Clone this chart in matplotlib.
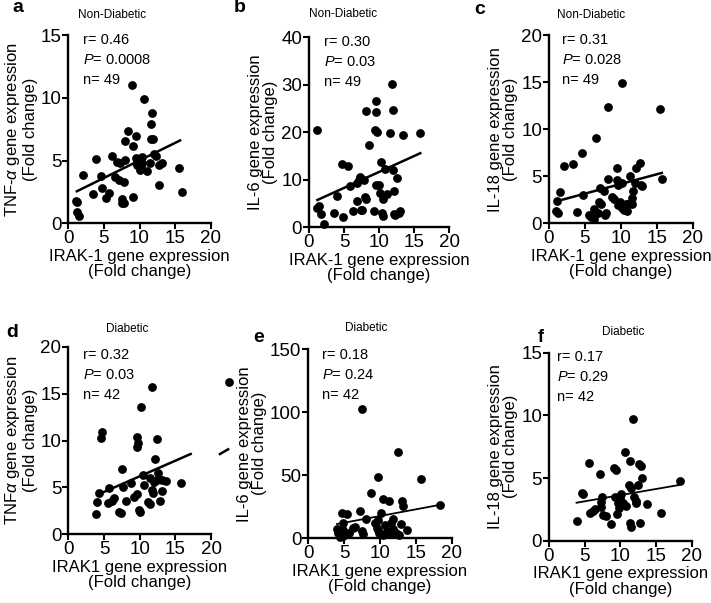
import numpy as np
import matplotlib
matplotlib.use('Agg')
import matplotlib.pyplot as plt

plt.rcParams['font.family'] = ['Liberation Sans', 'DejaVu Sans']
plt.rcParams['mathtext.fontset'] = 'custom'
plt.rcParams['mathtext.rm'] = 'Liberation Sans'
plt.rcParams['mathtext.it'] = 'Liberation Sans:italic'

# ---- data ----
# a: TNF-alpha vs IRAK-1, non-diabetic
a_x = [1.26, 1.1, 1.26, 1.55, 2.0, 3.5, 3.9, 4.6, 4.8, 5.3, 5.7, 6.2, 6.6, 6.8, 7.2, 7.1,
       7.5, 7.8, 7.5, 7.8, 7.9, 8.0, 8.4, 8.9, 9.1, 9.1, 9.5, 9.5, 9.6, 10.0, 10.0, 10.2,
       10.3, 10.4, 10.6, 11.0, 11.5, 11.6, 11.8, 11.6, 11.9, 12.0, 12.3, 12.7, 13.1, 12.8,
       15.5, 15.9, 9.7]
a_y = [1.67, 1.8, 0.88, 0.58, 3.85, 2.34, 5.12, 3.77, 2.84, 2.02, 2.44, 5.36, 3.72, 4.86,
       4.78, 3.45, 1.94, 1.65, 1.6, 3.32, 5.04, 6.56, 7.38, 11.04, 6.16, 2.1, 6.96, 5.18,
       4.83, 4.91, 4.25, 4.57, 5.3, 4.78, 9.88, 4.2, 4.78, 7.9, 8.76, 6.69, 6.69, 5.52,
       5.36, 4.65, 4.83, 3.03, 4.38, 2.52, 4.65]
a_fit = ([1.2, 15.7], [2.55, 6.6])

# b: IL-6 vs IRAK-1, non-diabetic
b_x = [1.2, 1.2, 1.4, 1.7, 2.2, 3.5, 3.95, 4.67, 4.9, 5.5, 5.86, 6.3, 6.8, 6.9, 7.1, 7.3,
       7.4, 7.6, 7.8, 8.0, 8.1, 8.1, 8.6, 9.3, 9.5, 9.5, 9.4, 9.7, 9.6, 10.0, 10.2, 10.3,
       10.4, 10.5, 10.6, 10.9, 11.2, 11.6, 11.8, 12.0, 12.0, 12.1, 12.3, 12.5, 12.8, 13.0,
       13.4, 15.9, 12.2]
b_y = [20.5, 4.0, 4.5, 2.9, 0.6, 3.1, 6.6, 13.4, 2.1, 13.0, 8.8, 3.5, 5.6, 9.4, 10.0, 10.5,
       3.7, 3.6, 9.9, 6.4, 5.9, 24.4, 17.3, 3.5, 26.6, 24.3, 20.4, 20.0, 8.9, 8.9, 7.2, 13.8,
       3.0, 2.4, 5.9, 12.3, 7.1, 19.8, 30.2, 24.7, 12.1, 7.6, 2.5, 10.4, 3.0, 3.4, 19.4,
       19.9, 2.7]
b_fit = ([1.2, 15.9], [5.75, 15.6])

# c: IL-18 vs IRAK-1, non-diabetic
c_x = [1.16, 1.5, 0.97, 1.3, 2.1, 3.4, 3.85, 4.55, 4.8, 5.6, 5.9, 6.2, 6.3, 6.5, 6.8, 7.0,
       7.1, 7.3, 7.66, 7.8, 7.9, 8.26, 8.26, 8.7, 9.05, 9.4, 9.4, 9.65, 9.65, 9.9, 10.1,
       10.1, 10.1, 10.35, 10.5, 10.7, 10.9, 11.3, 11.5, 11.7, 11.9, 12.1, 12.6, 12.8, 13.0,
       15.4, 15.7, 11.6, 11.0]
c_y = [2.37, 3.36, 1.35, 1.06, 6.1, 6.3, 1.24, 7.5, 3.0, 0.88, 0.7, 0.46, 1.5, 9.1, 1.06,
       2.3, 3.7, 2.1, 3.43, 0.88, 1.06, 12.3, 4.7, 2.8, 2.6, 5.84, 4.6, 4.07, 1.95, 2.3, 14.9,
       4.3, 1.6, 1.95, 1.4, 2.1, 1.35, 5.0, 2.65, 3.47, 4.3, 5.84, 6.4, 4.07, 3.96, 12.1,
       4.7, 2.05, 2.1]
c_fit = ([1.1, 15.7], [2.35, 5.35])

# d: TNF-alpha vs IRAK1, diabetic (last point lies beyond the x axis)
d_x = [3.83, 3.97, 4.35, 4.58, 4.77, 5.6, 5.7, 6.07, 6.45, 7.1, 7.38, 7.48, 7.7, 8.04,
       8.74, 9.25, 9.6, 9.6, 9.67, 9.8, 9.9, 10.05, 10.2, 10.4, 10.6, 11.2, 11.45, 11.45,
       11.7, 11.8, 11.9, 12.05, 12.15, 12.5, 12.6, 12.5, 12.85, 13.1, 13.2, 13.7, 15.75,
       22.5]
d_y = [2.13, 3.48, 4.37, 10.3, 10.94, 3.3, 4.97, 3.59, 3.9, 2.4, 2.24, 6.96, 5.08, 3.55,
       5.5, 4.0, 4.26, 9.27, 10.4, 9.77, 2.6, 2.34, 13.6, 6.32, 5.26, 3.48, 5.97, 3.23, 4.72,
       15.67, 4.44, 5.61, 8.0, 10.12, 6.57, 5.79, 3.59, 4.65, 5.79, 5.72, 5.43, 16.27]
d_fit = ([4.35, 17.15], [4.3, 8.56])
d_stray = ([21.26, 22.4], [8.56, 9.06])

# e: IL-6 vs IRAK1, diabetic
e_x = [3.95, 4.19, 4.4, 4.65, 4.88, 4.88, 5.35, 4.88, 5.67, 6.28, 6.5, 7.2, 7.53, 7.53,
       7.67, 8.0, 8.74, 9.3, 9.53, 9.67, 9.77, 9.86, 10.14, 10.37, 10.47, 10.7, 10.93,
       11.26, 11.4, 11.6, 11.86, 11.86, 12.2, 12.56, 12.65, 12.93, 13.0, 13.16, 13.7, 15.7,
       18.4, 9.77]
e_y = [7.1, 4.0, 1.3, 20.4, 6.6, 1.85, 19.3, 12.4, 4.5, 7.9, 9.3, 22.0, 102.4, 6.1, 3.2,
       15.1, 36.2, 12.4, 7.9, 48.9, 14.6, 4.5, 19.8, 2.65, 31.0, 10.6, 6.1, 29.9, 3.2, 12.4,
       15.1, 7.1, 4.5, 68.8, 2.65, 11.4, 29.9, 25.7, 6.6, 47.1, 26.7, 6.6]
e_fit = ([4.0, 18.4], [11.3, 26.6])

# f: IL-18 vs IRAK1, diabetic
f_x = [3.86, 4.56, 4.79, 5.58, 5.72, 6.19, 6.42, 7.12, 7.26, 7.35, 7.44, 7.58, 7.95, 8.74,
       9.1, 9.3, 9.44, 9.58, 9.67, 9.77, 9.9, 10.14, 10.37, 10.6, 10.84, 11.2, 11.35, 11.44,
       11.3, 11.44, 11.77, 11.9, 12.14, 12.47, 12.56, 12.7, 12.84, 13.0, 12.23, 13.77,
       15.72, 18.37]
f_y = [1.6, 3.78, 3.72, 6.22, 2.23, 2.39, 2.5, 5.32, 2.71, 3.1, 3.5, 2.05, 1.97, 1.33, 5.77,
       3.5, 5.64, 2.13, 2.98, 2.58, 3.38, 3.72, 2.98, 7.1, 2.77, 4.44, 6.38, 4.18, 1.38, 1.06,
       9.68, 3.5, 3.03, 4.44, 6.12, 1.38, 5.96, 4.97, 3.19, 2.9, 2.18, 4.76]
f_fit = ([3.86, 18.2], [3.03, 4.44])

W, H = 711, 603
fig = plt.figure(figsize=(W / 100, H / 100), dpi=100)


def px_axes(x0, x1, y_top, y_bot):
    # axes box given in picture pixels
    return fig.add_axes([x0 / W, 1 - y_bot / H, (x1 - x0) / W, (y_bot - y_top) / H])


def put(x, y, s, **kw):
    fig.text(x / W, 1 - y / H, s, **kw)


panels = [
    # letter, title, x, y, fit, ymax, yticks, ylabel, xlabel, box, text pos, letter pos, title pos, stats
    ('a', 'Non-Diabetic', a_x, a_y, a_fit, 15, [0, 5, 10, 15],
     'TNF-$\\alpha$ gene expression\n(Fold change)', 'IRAK-1 gene expression\n(Fold change)',
     (68.3, 210.7, 35, 223.3), (83, 40), (18, 8), (112, 15), ('0.46', '0.0008', '49')),
    ('b', 'Non-Diabetic', b_x, b_y, b_fit, 40, [0, 10, 20, 30, 40],
     'IL-6 gene expression\n(Fold change)', 'IRAK-1 gene expression\n(Fold change)',
     (309, 449, 37.3, 227.3), (324, 42), (240, 8), (343, 14), ('0.30', '0.03', '49')),
    ('c', 'Non-Diabetic', c_x, c_y, c_fit, 20, [0, 5, 10, 15, 20],
     'IL-18 gene expression\n(Fold change)', 'IRAK-1 gene expression\n(Fold change)',
     (549, 692.7, 35, 223.3), (562, 40), (480, 9), (591, 15), ('0.31', '0.028', '49')),
    ('d', 'Diabetic', d_x, d_y, d_fit, 20, [0, 5, 10, 15, 20],
     'TNF$\\alpha$ gene expression\n(Fold change)', 'IRAK1 gene expression\n(Fold change)',
     (68.3, 211, 346.7, 534.3), (83, 355), (12, 332), (127, 329), ('0.32', '0.03', '42')),
    ('e', 'Diabetic', e_x, e_y, e_fit, 150, [0, 50, 100, 150],
     'IL-6 gene expression\n(Fold change)', 'IRAK1 gene expression\n(Fold change)',
     (308.3, 451.7, 349.3, 538.3), (322, 355), (259, 337), (366, 328), ('0.18', '0.24', '42')),
    ('f', 'Diabetic', f_x, f_y, f_fit, 15, [0, 5, 10, 15],
     'IL-18 gene expression\n(Fold change)', 'IRAK1 gene expression\n(Fold change)',
     (549, 691.7, 352.7, 540.7), (557, 357), (541, 337), (623, 332), ('0.17', '0.29', '42')),
]

for (let, title, xs, ys, fit, ymax, yticks, ylab, xlab, box, tpos, lpos, ttl, st) in panels:
    ax = px_axes(*box)
    ax.scatter(xs, ys, s=40, color='black', zorder=3, clip_on=False, linewidths=0)
    lw = 1.8 if let in 'abcd' else 1.3
    ax.plot(fit[0], fit[1], color='black', lw=lw, clip_on=False)
    if let == 'd':
        ax.plot(d_stray[0], d_stray[1], color='black', lw=1.8, clip_on=False)
    ax.set_xlim(0, 20)
    ax.set_ylim(0, ymax)
    ax.set_xticks([0, 5, 10, 15, 20])
    ax.set_yticks(yticks)
    for sp in ['top', 'right']:
        ax.spines[sp].set_visible(False)
    for sp in ['left', 'bottom']:
        ax.spines[sp].set_linewidth(1.7)
    ax.tick_params(width=1.5, length=4, labelsize=13.5, pad=1)
    ax.set_xlabel(xlab, fontsize=12, labelpad=1, linespacing=1.05)
    ax.set_ylabel(ylab, fontsize=12, labelpad=2, linespacing=1.05)
    fs = 13 if let == 'f' else 14
    put(lpos[0], lpos[1], let, fontsize=fs, fontweight='bold', ha='center', va='center')
    put(ttl[0], ttl[1], title, fontsize=8.5, ha='center', va='center')
    put(tpos[0], tpos[1], 'r= ' + st[0], fontsize=10.5, va='center')
    put(tpos[0], tpos[1] + 20, '$\\mathit{P}$= ' + st[1], fontsize=10.5, va='center')
    put(tpos[0], tpos[1] + 40, 'n= ' + st[2], fontsize=10.5, va='center')

fig.savefig('out.png', dpi=100)
